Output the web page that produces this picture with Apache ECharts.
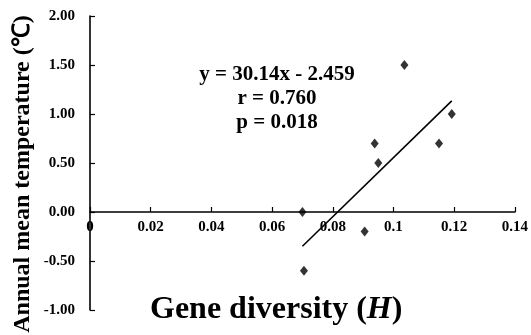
<!DOCTYPE html>
<html><head><meta charset="utf-8">
<script src="https://cdn.jsdelivr.net/npm/echarts@6/dist/echarts.min.js"></script>
<style>html,body{margin:0;padding:0;background:#fff}#c{width:531px;height:335px}</style>
</head><body><div id="c"></div>
<script>
const geneDiversity = [0.0700, 0.0705, 0.0905, 0.0938, 0.0950, 0.1036, 0.1150, 0.1192];
const temperature   = [0.00, -0.60, -0.20, 0.70, 0.50, 1.50, 0.70, 1.00];
const slope = 30.14, intercept = -2.459;
const xTicks = [0, 0.02, 0.04, 0.06, 0.08, 0.1, 0.12, 0.14];
const yTicks = [-1.00, -0.50, 0.00, 0.50, 1.00, 1.50, 2.00];
const statsText = ['y = 30.14x - 2.459', 'r = 0.760', 'p = 0.018'];

const pts = geneDiversity.map((x, i) => [x, temperature[i]]);
const xMin = Math.min(...geneDiversity), xMax = Math.max(...geneDiversity);
const fitLine = [[xMin, slope * xMin + intercept], [xMax, slope * xMax + intercept]];
const FONT = '"Liberation Serif", "Times New Roman", serif';

const W = 531, H = 335;
const grid = { left: 90, right: 16, top: 16, bottom: 25 };
const yMinV = yTicks[0], yMaxV = yTicks[yTicks.length - 1];
const gridH = H - grid.top - grid.bottom;
const xAxisOffset = -gridH * (0 - yMinV) / (yMaxV - yMinV);

const chart = echarts.init(document.getElementById('c'));
chart.setOption({
  animation: false,
  grid: grid,
  xAxis: {
    type: 'value', min: xTicks[0], max: xTicks[xTicks.length - 1], interval: 0.02,
    offset: xAxisOffset,
    splitLine: { show: false },
    axisLine: { onZero: false, lineStyle: { color: '#000', width: 1.6 } },
    axisTick: { show: true, inside: true, length: 5, lineStyle: { color: '#000', width: 1.2 } },
    axisLabel: { color: '#000', fontFamily: FONT, fontWeight: 'bold', fontSize: 15, margin: 8,
      showMinLabel: true, showMaxLabel: true,
      formatter: v => String(+v.toFixed(2)) }
  },
  yAxis: {
    type: 'value', min: yMinV, max: yMaxV, interval: 0.5,
    splitLine: { show: false },
    axisLine: { onZero: false, lineStyle: { color: '#000', width: 1.6 } },
    axisTick: { show: true, inside: true, length: 5, lineStyle: { color: '#000', width: 1.2 } },
    axisLabel: { color: '#000', fontFamily: FONT, fontWeight: 'bold', fontSize: 15, margin: 15,
      formatter: v => v.toFixed(2) }
  },
  series: [
    { type: 'scatter', data: pts, symbol: 'diamond', symbolSize: [8, 10],
      itemStyle: { color: '#000' }, z: 3 },
    { type: 'line', data: fitLine, symbol: 'none',
      lineStyle: { color: '#000', width: 1.6 }, z: 2 }
  ],
  graphic: [
    { type: 'text', z: 10, x: 150, y: 310,
      style: { text: '{b|Gene diversity (}{i|H}{b|)}', verticalAlign: 'middle', rich: {
        b: { fontFamily: FONT, fontWeight: 'bold', fontSize: 32, fill: '#000' },
        i: { fontFamily: FONT, fontWeight: 'bold', fontStyle: 'italic', fontSize: 32, fill: '#000' } } } },
    { type: 'text', z: 10, rotation: Math.PI / 2, x: 23, y: 174,
      style: { text: 'Annual mean temperature (℃)', fontFamily: FONT, fontWeight: 'bold', fontSize: 24,
        fill: '#000', align: 'center', verticalAlign: 'middle' } },
    { type: 'text', z: 10, x: 277, y: 63,
      style: { text: statsText.join('\n'), fontFamily: FONT, fontWeight: 'bold', fontSize: 21,
        lineHeight: 24, fill: '#000', align: 'center', verticalAlign: 'top' } }
  ]
});
</script></body></html>
